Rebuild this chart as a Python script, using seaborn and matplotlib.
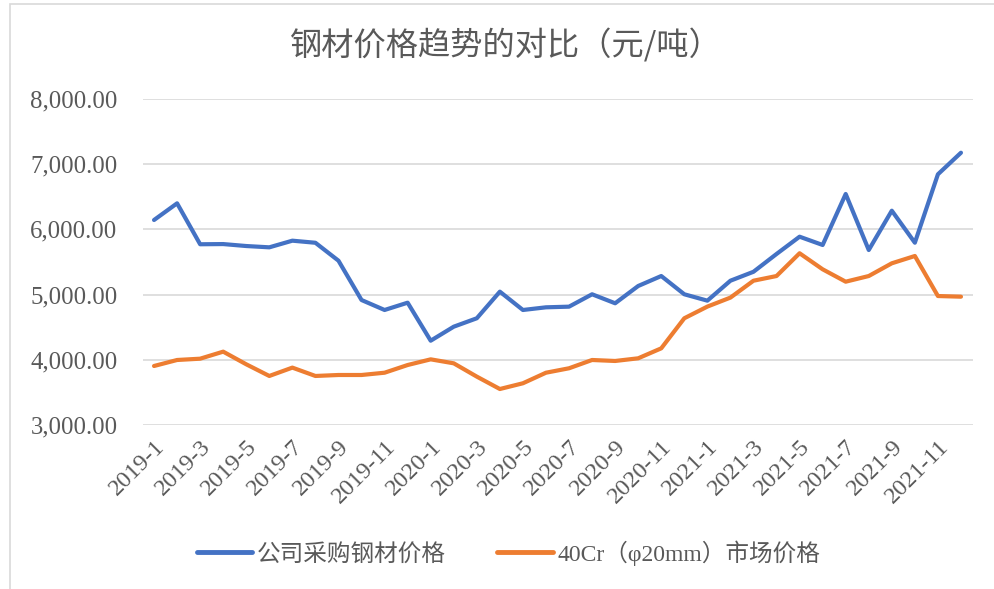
import pandas as pd
import matplotlib.pyplot as plt
import seaborn as sns
from matplotlib.patches import Rectangle

# months 2019-1 .. 2021-12
months = [f"{y}-{m}" for y in (2019, 2020, 2021) for m in range(1, 13)]

company_price = [6144, 6400, 5772, 5775, 5745, 5725, 5827, 5795, 5520, 4917, 4764, 4876,
                 4293, 4508, 4637, 5045, 4764, 4805, 4815, 5005, 4867, 5132, 5285, 5005,
                 4907, 5213, 5350, 5623, 5888, 5761, 6543, 5684, 6287, 5796, 6845, 7176]
market_price = [3905, 3997, 4017, 4125, 3931, 3752, 3880, 3752, 3767, 3767, 3802, 3920,
                4007, 3946, 3742, 3552, 3640, 3802, 3870, 3997, 3982, 4023, 4176, 4637,
                4816, 4954, 5213, 5285, 5634, 5388, 5198, 5285, 5480, 5592, 4978, 4968]
series_names = ["公司采购钢材价格", "40Cr（φ20mm）市场价格"]

df = pd.DataFrame({
    "idx": list(range(len(months))) * 2,
    "price": company_price + market_price,
    "series": [series_names[0]] * len(months) + [series_names[1]] * len(months),
})

sns.set_style("white")
plt.rcParams['font.family'] = ['Liberation Serif', 'Noto Sans CJK SC']
grey = "#595959"

fig = plt.figure(figsize=(9.94, 5.89), dpi=100)
ax = fig.add_axes([142.5 / 994, 1 - 425 / 589, 830 / 994, 326 / 589])

sns.lineplot(data=df, x="idx", y="price", hue="series", ax=ax,
             palette=["#4472C4", "#ED7D31"], linewidth=3.0, legend=False)

ax.set_xlim(-0.5, 35.5)
ax.set_ylim(3000, 8000)
ax.set_yticks(range(3000, 8001, 1000))
ax.set_yticklabels([f"{v:,.2f}" for v in range(3000, 8001, 1000)], fontsize=17.8, color=grey)
ax.set_xticks(range(0, 36, 2))
ax.set_xticklabels(months[::2], rotation=45, ha="right", rotation_mode="anchor",
                   fontsize=17.5, color=grey)
ax.tick_params(axis="y", length=0, pad=18)
ax.tick_params(axis="x", length=0, pad=8)
ax.yaxis.grid(True, color="#D9D9D9", linewidth=1.2)
ax.set_axisbelow(True)
for s in ax.spines.values():
    s.set_visible(False)
ax.set_xlabel("")
ax.set_ylabel("")

fig.text(0.509, 1 - 45 / 589, "钢材价格趋势的对比（元/吨）", ha="center", va="center",
         fontsize=23.2, color=grey, family=['Noto Sans CJK SC', 'DejaVu Sans'])

# legend
handles = [plt.Line2D([], [], color=c, linewidth=3.5, solid_capstyle="round")
           for c in ["#4472C4", "#ED7D31"]]
leg = fig.legend(handles, series_names, loc="center", bbox_to_anchor=(0.5116, 1 - 553 / 589),
                 ncol=2, frameon=False, fontsize=17, handlelength=2.37, columnspacing=2.15,
                 handletextpad=0.2, borderpad=0, borderaxespad=0)
for t in leg.get_texts():
    t.set_color(grey)

# chart border
fig.patches.append(Rectangle((10 / 994, -0.01), 1.0, 1 - 4 / 589 + 0.01,
                             transform=fig.transFigure, fill=False,
                             edgecolor="#D9D9D9", linewidth=1.2))

fig.savefig("out.png", dpi=100)
